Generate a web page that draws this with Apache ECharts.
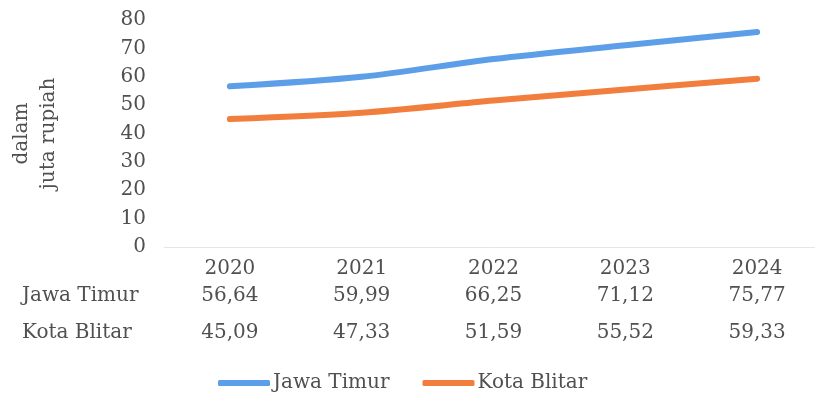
<!DOCTYPE html>
<html><head><meta charset="utf-8">
<script src="https://cdn.jsdelivr.net/npm/echarts@6/dist/echarts.min.js"></script>
<style>html,body{margin:0;padding:0;background:#fff}#c{width:815px;height:403px}</style>
</head><body><div id="c"></div>
<script>
const years = ['2020','2021','2022','2023','2024'];
const jawaTimur = [56.64, 59.99, 66.25, 71.12, 75.77];
const kotaBlitar = [45.09, 47.33, 51.59, 55.52, 59.33];
const yTicks = [0, 80, 10];
const seriesNames = ['Jawa Timur', 'Kota Blitar'];

const fmt = v => v.toFixed(2).replace('.', ',');
const font = 'DejaVu Serif';
const fs = 20;
const txt = '#505050';
const chart = echarts.init(document.getElementById('c'));
const labelAxis = (data, offset, name) => ({
  type: 'category', data: data, position: 'bottom', offset: offset, gridIndex: 0,
  axisLine: {show: false}, axisTick: {show: false}, splitLine: {show: false},
  axisLabel: {margin: 0, verticalAlign: 'middle', color: txt, fontFamily: font, fontSize: fs},
  name: name, nameLocation: 'start', nameGap: 142,
  nameTextStyle: {color: txt, fontFamily: font, fontSize: fs, verticalAlign: 'middle', align: 'left'}
});
chart.setOption({
  animation: false,
  grid: {left: 164, top: 20, width: 659, height: 227, outerBoundsMode: 'none', containLabel: false},
  legend: {
    data: seriesNames, bottom: 5, left: 213, itemWidth: 52, itemHeight: 6, itemGap: 33,
    icon: 'roundRect',
    textStyle: {color: txt, fontFamily: font, fontSize: fs, padding: [0,0,0,-2]}
  },
  xAxis: [
    {type: 'category', data: years,
     axisLine: {show: true, lineStyle: {color: '#e6e6e6', width: 1}}, axisTick: {show: false},
     axisLabel: {margin: 22, verticalAlign: 'middle', color: txt, fontFamily: font, fontSize: fs}},
    labelAxis(jawaTimur.map(fmt), 49, seriesNames[0]),
    labelAxis(kotaBlitar.map(fmt), 86, seriesNames[1])
  ],
  yAxis: {
    type: 'value', min: yTicks[0], max: yTicks[1], interval: yTicks[2],
    axisLine: {show: false}, axisTick: {show: false}, splitLine: {show: false},
    axisLabel: {margin: 18, color: txt, fontFamily: font, fontSize: fs},
    name: 'dalam\njuta rupiah', nameLocation: 'middle', nameRotate: 90, nameGap: 102,
    nameTextStyle: {color: txt, fontFamily: font, fontSize: fs, lineHeight: 27}
  },
  series: [
    {name: seriesNames[0], type: 'line', data: jawaTimur, smooth: 0.3, symbol: 'none',
     color: '#5d9ee8', lineStyle: {width: 6, cap: 'round', color: '#5d9ee8'}},
    {name: seriesNames[1], type: 'line', data: kotaBlitar, smooth: 0.3, symbol: 'none',
     color: '#f27e3e', lineStyle: {width: 6, cap: 'round', color: '#f27e3e'}}
  ]
});
</script></body></html>
